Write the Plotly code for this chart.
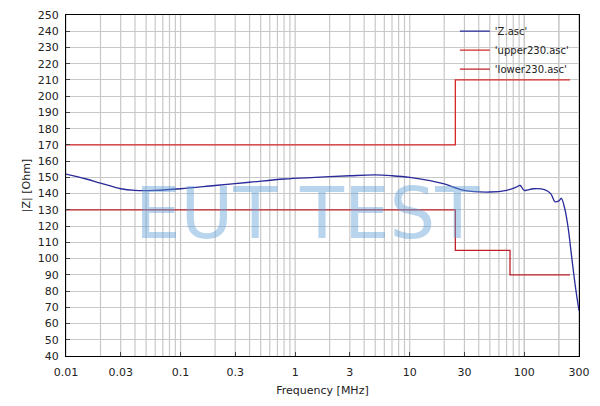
import plotly.graph_objects as go
import numpy as np

z_f = [0.01,0.015,0.02,0.03,0.04,0.06,0.1,0.2,0.4,0.8,1.5,3,5,7,10,15,20,30,50,70,85,92,100,120,150,170,185,200,210,225,240,260,280,300]
z_v = [152,149,146.5,143,142,142,143,145,147,149,150,151,151.5,151,150,148,146,142,141,142,144,145,142,143,142.5,140,135,135.5,137,131,120,100,82,68]
up_f = [0.01,25,25,250]
up_v = [170,170,210,210]
lo_f = [0.01,25,25,75,75,250]
lo_v = [130,130,105,105,90,90]
xticks = [0.01,0.03,0.1,0.3,1,3,10,30,100,300]
xlabels = ["0.01","0.03","0.1","0.3","1","3","10","30","100","300"]

fig = go.Figure()
fig.add_trace(go.Scatter(x=z_f, y=z_v, mode="lines", name="'Z.asc'", line=dict(color="#2a2a9a", width=1.3, shape="spline")))
fig.add_trace(go.Scatter(x=up_f, y=up_v, mode="lines", name="'upper230.asc'", line=dict(color="#d62728", width=1.3)))
fig.add_trace(go.Scatter(x=lo_f, y=lo_v, mode="lines", name="'lower230.asc'", line=dict(color="#c0202a", width=1.3)))

minor = [m*10.0**e for e in range(-2,3) for m in range(1,10)] + [100*m for m in (1,2,3)]
for v in minor:
    if 0.01 <= v <= 300:
        fig.add_shape(type="line", x0=v, x1=v, y0=40, y1=250, xref="x", yref="y", line=dict(color="#c8c8c8", width=1.2), layer="below")

fig.add_annotation(text="EUT TEST", x=0.47, y=0.42, xref="paper", yref="paper", showarrow=False,
                   font=dict(family="DejaVu Sans", size=72, color="rgba(100,160,215,0.45)"))

fig.update_layout(
    width=600, height=406, paper_bgcolor="white", plot_bgcolor="white",
    margin=dict(l=58, r=29, t=7, b=58, autoexpand=False),
    font=dict(family="DejaVu Sans", size=11, color="#222"),
    legend=dict(x=0.99, y=0.995, xanchor="right", yanchor="top", bgcolor="rgba(255,255,255,0)", font=dict(size=10)),
    showlegend=True,
)
fig.update_xaxes(type="log", range=[np.log10(0.01), np.log10(300)], tickvals=xticks, ticktext=xlabels,
                 showgrid=False, showline=True, linecolor="black", mirror=True, ticks="inside", ticklen=4,
                 ticklabelstandoff=6, automargin=False,
                 title=dict(text="Frequency [MHz]", font=dict(size=11), standoff=8))
fig.update_yaxes(range=[40,250], dtick=10, showgrid=True, gridcolor="#c8c8c8", gridwidth=1.2,
                 showline=True, linecolor="black", mirror=True, ticks="inside", ticklen=4,
                 ticklabelstandoff=4, automargin=False,
                 title=dict(text="|Z| [Ohm]", font=dict(size=11), standoff=4))
fig.write_html("out.html")
